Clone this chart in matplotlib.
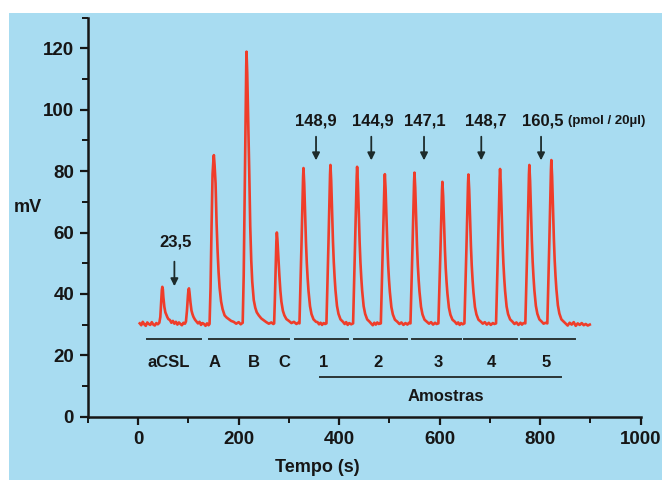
import matplotlib
matplotlib.use('Agg')
import matplotlib.pyplot as plt
from matplotlib.patches import Rectangle
from matplotlib.ticker import MultipleLocator

plt.rcParams['font.family'] = ['Liberation Sans Narrow', 'Liberation Sans', 'DejaVu Sans']
plt.rcParams['font.weight'] = 'bold'

# sensor trace (time in s, signal in mV)
t_s = [
    3, 6, 9, 12, 15, 18, 21, 24, 27, 30, 33, 36, 39, 42,
    44, 46, 47, 48, 49, 50, 52, 54, 56, 58, 60, 63, 66, 69, 72, 75, 78, 81, 84, 87, 90, 93,
    95, 97, 99, 100, 101, 102, 104, 106, 108, 110, 113, 116, 119, 122, 125, 128, 131, 134, 137, 140,
    142, 144, 146, 148, 150, 150.6, 152, 154, 156, 158, 160, 162, 165, 168, 172, 176, 180, 185, 190, 195, 200, 204,
    208, 210, 212, 214, 215, 215.6, 217, 219, 221, 223, 225, 227, 230, 233, 236, 240, 245, 250, 255, 260, 265, 269,
    270.6, 272, 273.5, 275, 276, 277, 279, 281, 283, 285, 288, 291, 295, 300, 305, 310, 315, 318,
    321, 323, 325, 327, 328.2, 329, 330.5, 332.3, 334, 335.6, 337.3, 339, 342, 345, 349, 354,
    357, 360, 363, 366, 369, 372,
    374.7, 376.7, 378.7, 380.7, 381.9, 382.7, 384.2, 386, 387.7, 389.3, 391, 392.7, 395.7, 398.7, 402.7, 407.7,
    411, 414, 417, 420, 424,
    427.8, 429.8, 431.8, 433.8, 435, 435.8, 437.3, 439.1, 440.8, 442.4, 444.1, 445.8, 448.8, 451.8, 455.8, 460.8,
    464, 467, 470, 473, 476, 479, 482,
    483, 485, 487, 489, 490.2, 491, 492.5, 494.3, 496, 497.6, 499.3, 501, 504, 507, 511, 516,
    520, 524, 528, 532, 536, 539,
    542, 544, 546, 548, 549.2, 550, 551.5, 553.3, 555, 556.6, 558.3, 560, 563, 566, 570, 575,
    579, 583, 587, 591, 594,
    597.6, 599.6, 601.6, 603.6, 604.8, 605.6, 607.1, 608.9, 610.6, 612.2, 613.9, 615.6, 618.6, 621.6, 625.6, 630.6,
    634, 637, 640, 643, 646,
    649.4, 651.4, 653.4, 655.4, 656.6, 657.4, 658.9, 660.7, 662.4, 664, 665.7, 667.4, 670.4, 673.4, 677.4, 682.4,
    686, 690, 694, 698, 702, 706, 709,
    712.4, 714.4, 716.4, 718.4, 719.6, 720.4, 721.9, 723.7, 725.4, 727, 728.7, 730.4, 733.4, 736.4, 740.4, 745.4,
    749, 753, 757, 761, 764, 767,
    770.7, 772.7, 774.7, 776.7, 777.9, 778.7, 780.2, 782, 783.7, 785.3, 787, 788.7, 791.7, 794.7, 798.7, 803.7,
    807, 811,
    814.5, 816.5, 818.5, 820.5, 821.7, 822.5, 824, 825.8, 827.5, 829.1, 830.8, 832.5, 835.5, 838.5, 842.5, 847.5,
    851, 855, 859, 863, 867, 871, 875, 879, 883, 887, 891, 895, 899,
]
mv = [
    30.4, 29.8, 30.9, 30.1, 29.6, 30.7, 30.2, 29.9, 30.8, 30.0, 29.7, 30.5, 30.1, 30.6,
    32.5, 38.0, 41.2, 42.3, 41.5, 39.0, 35.8, 34.0, 33.2, 32.4, 31.8, 31.5, 30.6, 31.2, 30.3, 30.9, 30.0, 30.7, 30.2, 29.8, 30.6, 30.3,
    31.0, 34.5, 39.5, 41.3, 41.8, 40.6, 37.2, 34.6, 33.4, 32.5, 31.6, 31.0, 30.4, 30.9, 29.9, 30.5, 30.2, 29.6, 30.4, 29.8,
    30.2, 42.0, 62.0, 79.0, 84.5, 85.2, 82.0, 76.0, 63.0, 54.0, 47.0, 42.0, 37.5, 35.0, 33.0, 32.3, 31.8, 31.2, 30.9, 30.3, 30.8, 30.1,
    30.6, 46.0, 72.0, 100.0, 114.0, 118.9, 112.0, 96.0, 80.0, 62.0, 51.0, 44.0, 38.0, 35.5, 34.0, 33.0, 32.0, 31.4, 30.8, 30.3, 30.7, 30.2,
    30.4, 38.0, 48.0, 57.0, 60.0, 58.0, 52.0, 46.0, 41.0, 37.5, 34.5, 33.0, 31.8, 31.2, 30.5, 30.9, 30.2, 30.6,
    30.4, 43.0, 55.7, 69.9, 78.0, 81.0, 75.9, 65.8, 56.7, 50.1, 45.1, 41.0, 36.0, 33.4, 31.7, 30.9,
    30.8, 30.1, 30.6, 29.9, 30.5, 30.2,
    30.4, 43.3, 56.2, 70.6, 78.9, 82.0, 76.8, 66.5, 57.2, 50.5, 45.4, 41.2, 36.1, 33.5, 31.7, 30.9,
    30.2, 30.8, 29.9, 30.5, 30.1,
    30.4, 43.2, 55.9, 70.2, 78.3, 81.4, 76.3, 66.1, 56.9, 50.3, 45.2, 41.1, 36.0, 33.5, 31.7, 30.9,
    30.3, 29.8, 30.6, 30.0, 30.7, 30.2, 30.5,
    30.4, 42.6, 54.7, 68.3, 76.1, 79.0, 74.1, 64.4, 55.7, 49.4, 44.5, 40.6, 35.7, 33.3, 31.6, 30.9,
    30.2, 30.7, 29.9, 30.5, 30.0, 30.6,
    30.4, 42.7, 55.0, 68.7, 76.6, 79.5, 74.6, 64.8, 55.9, 49.5, 44.6, 40.7, 35.8, 33.3, 31.6, 30.9,
    30.3, 30.8, 30.0, 30.6, 30.2,
    30.4, 41.9, 53.5, 66.4, 73.7, 76.5, 71.9, 62.7, 54.4, 48.4, 43.8, 40.1, 35.5, 33.2, 31.6, 30.9,
    30.2, 30.7, 29.9, 30.5, 30.1,
    30.4, 42.5, 54.7, 68.2, 76.0, 78.9, 74.1, 64.4, 55.6, 49.3, 44.5, 40.6, 35.7, 33.3, 31.6, 30.9,
    30.3, 30.8, 30.0, 30.6, 29.9, 30.5, 30.2,
    30.4, 43.0, 55.6, 69.6, 77.7, 80.7, 75.7, 65.6, 56.6, 50.0, 45.0, 41.0, 35.9, 33.4, 31.7, 30.9,
    30.2, 30.7, 29.9, 30.6, 30.0, 30.5,
    30.4, 43.3, 56.2, 70.6, 78.9, 82.0, 76.8, 66.5, 57.2, 50.5, 45.4, 41.2, 36.1, 33.5, 31.7, 30.9,
    30.3, 30.6,
    30.4, 43.7, 57.0, 71.9, 80.4, 83.6, 78.3, 67.6, 58.1, 51.1, 45.8, 41.6, 36.3, 33.6, 31.7, 30.9,
    30.3, 29.7, 30.6, 30.0, 30.8, 29.6, 30.4, 29.9, 30.5, 29.8, 30.2, 29.7, 30.0,
]

# concentrations written above the sample peaks
conc_labels = ['148,9', '144,9', '147,1', '148,7', '160,5']
conc_text_t = [354, 467, 571, 692, 805]
conc_arrow_t = [354, 464, 569, 683, 802]

# groups under the trace
group_labels = ['aCSL', 'A', 'B', 'C', '1', '2', '3', '4', '5']
group_label_t = [61, 153, 230, 291, 370, 477, 598, 703, 813]
group_lines = [(17, 125), (141, 301), (312, 418), (429, 535), (546, 642),
               (648, 754), (763, 870)]
amostras_line = (361, 841)

blue = '#a8dcf1'
ink = '#161616'
arrow_c = '#1d2b2b'

fig = plt.figure(figsize=(6.62, 4.8), dpi=100, facecolor='white')
fig.patches.append(Rectangle((9 / 662, 0), 1, 1 - 13 / 480, transform=fig.transFigure,
                             facecolor=blue, edgecolor='none', zorder=-10))
ax = fig.add_axes([88 / 662, 63.3 / 480, (640.5 - 88) / 662, (462.4 - 63.3) / 480])
ax.set_facecolor('none')

ax.plot(t_s, mv, color='#ef3d2a', lw=1.9, zorder=3)

ax.set_xlim(-100, 1000)
ax.set_ylim(0, 130)
ax.xaxis.set_major_locator(MultipleLocator(200))
ax.xaxis.set_minor_locator(MultipleLocator(100))
ax.yaxis.set_major_locator(MultipleLocator(20))
ax.yaxis.set_minor_locator(MultipleLocator(10))
for s in ['top', 'right']:
    ax.spines[s].set_visible(False)
for s in ['left', 'bottom']:
    ax.spines[s].set_linewidth(1.8)
    ax.spines[s].set_color(ink)
ax.tick_params(which='major', direction='out', length=6, width=1.6, color=ink,
               labelsize=13.5, labelcolor=ink, pad=4)
ax.tick_params(which='minor', direction='out', length=4, width=1.4, color=ink)
ax.set_xticks([0, 200, 400, 600, 800, 1000])
for lab in ax.get_xticklabels() + ax.get_yticklabels():
    lab.set_fontweight('bold')

# aCSL annotation
ax.text(75, 57, '23,5', ha='center', va='center', fontsize=12, fontweight='bold', color=ink)
ax.annotate('', xy=(72, 42.5), xytext=(72, 50.5),
            arrowprops=dict(arrowstyle='-|>', color=arrow_c, lw=1.3, mutation_scale=11,
                            shrinkA=0, shrinkB=0))

for lab, tt, ta in zip(conc_labels, conc_text_t, conc_arrow_t):
    ax.text(tt, 96.3, lab, ha='center', va='center', fontsize=12, fontweight='bold', color=ink)
    ax.annotate('', xy=(ta, 83.5), xytext=(ta, 91.2),
                arrowprops=dict(arrowstyle='-|>', color=arrow_c, lw=1.3, mutation_scale=11,
                                shrinkA=0, shrinkB=0))
ax.text(856, 96.3, '(pmol / 20µl)', ha='left', va='center', fontsize=9.5,
        fontweight='bold', color=ink, clip_on=False)

for a, b in group_lines:
    ax.plot([a, b], [25.2, 25.2], color='#2a3535', lw=1.4)
for lab, tt in zip(group_labels, group_label_t):
    ax.text(tt, 17.6, lab, ha='center', va='center', fontsize=12, fontweight='bold', color=ink)
ax.plot(list(amostras_line), [12.8, 12.8], color='#2a3535', lw=1.4)
ax.text(sum(amostras_line) / 2 + 12, 6.7, 'Amostras', ha='center', va='center',
        fontsize=12, fontweight='bold', color=ink)

fig.text(28 / 662, 1 - 208 / 480, 'mV', ha='center', va='center', fontsize=13,
         fontweight='bold', color=ink)
fig.text(317 / 662, 1 - 467.7 / 480, 'Tempo (s)', ha='center', va='center', fontsize=13,
         fontweight='bold', color=ink)

fig.savefig('out.png', dpi=100, facecolor=fig.get_facecolor())
